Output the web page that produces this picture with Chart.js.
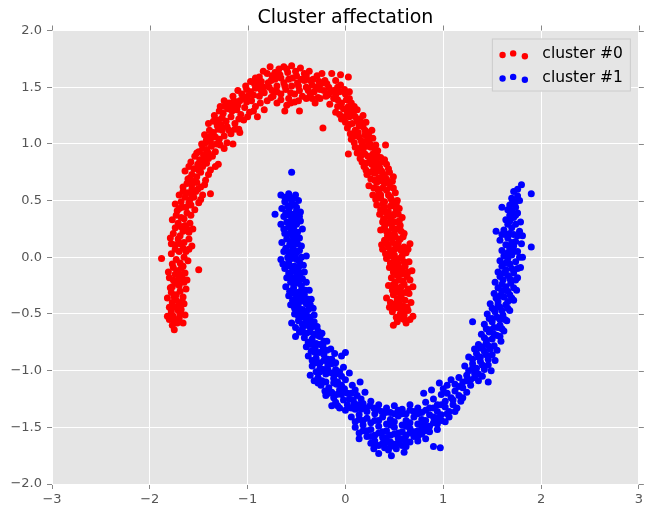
<!DOCTYPE html>
<html>
<head>
<meta charset="utf-8">
<script src="https://cdn.jsdelivr.net/npm/chart.js@4.4.1/dist/chart.umd.min.js"></script>
<style>
  html, body { margin: 0; padding: 0; background: #ffffff; }
  #chart { display: block; }
</style>
</head>
<body>
<canvas id="chart" width="646" height="512"></canvas>
<script>
// values
const titleText = 'Cluster affectation';
const seriesNames = ['cluster #0', 'cluster #1'];
const seriesColors = ['#ff0000', '#0000ff'];
const xTicks = [-3, -2, -1, 0, 1, 2, 3];
const yTicks = [-2.0, -1.5, -1.0, -0.5, 0.0, 0.5, 1.0, 1.5, 2.0];

// cluster #0 (red, upper moon) [x, y]
const cluster0 = [
  [-1.75,-0.64],[-1.80,-0.55],[-1.72,-0.58],[-1.66,-0.58],[-1.78,-0.48],[-1.69,-0.50],[-1.64,-0.51],[-1.74,-0.44],[-1.82,-0.52],[-1.70,-0.42],[-1.77,-0.40],
  [-1.77,-0.60],[-1.70,-0.54],[-1.76,-0.52],[-1.68,-0.46],[-1.80,-0.44],[-1.73,-0.38],[-1.65,-0.41],
  [-1.82,-0.36],[-1.73,-0.33],[-1.66,-0.35],[-1.79,-0.27],[-1.70,-0.25],[-1.63,-0.28],[-1.76,-0.20],[-1.67,-0.18],[-1.81,-0.13],[-1.72,-0.12],[-1.64,-0.14],[-1.50,-0.11],[-1.77,-0.06],
  [-1.78,-0.31],[-1.69,-0.30],[-1.74,-0.23],[-1.65,-0.22],[-1.80,-0.18],[-1.70,-0.15],[-1.76,-0.09],[-1.66,-0.08],[-1.62,-0.20],
  [-1.69,-0.05],[-1.61,-0.03],[-1.88,-0.01],[-1.78,0.03],[-1.70,0.05],[-1.60,0.07],[-1.74,0.11],[-1.65,0.13],[-1.57,0.10],[-1.79,0.17],[-1.69,0.19],[-1.60,0.22],[-1.74,0.26],[-1.64,0.28],[-1.56,0.25],
  [-1.73,-0.02],[-1.65,0.00],[-1.74,0.07],[-1.63,0.05],[-1.69,0.12],[-1.60,0.16],[-1.76,0.21],[-1.66,0.23],[-1.71,0.30],[-1.59,0.30],[-1.78,0.12],
  [-1.77,0.33],[-1.68,0.35],[-1.58,0.37],[-1.72,0.41],[-1.63,0.44],[-1.54,0.42],[-1.68,0.49],[-1.59,0.51],[-1.50,0.48],[-1.70,0.55],[-1.62,0.57],[-1.53,0.58],[-1.46,0.55],[-1.38,0.56],
  [-1.73,0.37],[-1.62,0.39],[-1.67,0.44],[-1.58,0.46],[-1.74,0.47],[-1.64,0.53],[-1.55,0.53],[-1.48,0.51],[-1.57,0.60],[-1.66,0.58],
  [-1.66,0.62],[-1.57,0.64],[-1.48,0.62],[-1.61,0.69],[-1.52,0.71],[-1.43,0.68],[-1.64,0.76],[-1.55,0.78],[-1.46,0.80],[-1.38,0.77],[-1.33,0.80],[-1.58,0.84],[-1.49,0.86],[-1.40,0.87],[-1.30,0.82],
  [-1.62,0.65],[-1.52,0.66],[-1.44,0.64],[-1.57,0.73],[-1.48,0.75],[-1.40,0.73],[-1.60,0.80],[-1.51,0.82],[-1.42,0.83],[-1.54,0.89],[-1.45,0.90],[-1.36,0.89],
  [-1.50,0.93],[-1.42,0.95],[-1.33,0.93],[-1.24,0.96],[-1.47,1.00],[-1.38,1.02],[-1.29,1.04],[-1.21,1.01],[-1.15,1.00],[-1.44,1.08],[-1.35,1.10],[-1.26,1.12],[-1.17,1.09],[-1.09,1.13],[-1.08,1.10],[-1.31,1.16],
  [-1.46,0.96],[-1.37,0.98],[-1.28,0.99],[-1.42,1.04],[-1.33,1.06],[-1.24,1.07],[-1.39,1.12],[-1.30,1.13],[-1.21,1.15],[-1.13,1.13],[-1.35,1.20],
  [-1.40,1.18],[-1.22,1.20],[-1.13,1.18],[-1.04,1.21],[-1.34,1.25],[-1.25,1.27],[-1.16,1.29],[-1.07,1.26],[-0.98,1.28],[-0.90,1.24],[-1.28,1.33],[-1.19,1.36],[-1.10,1.34],[-1.01,1.37],[-0.92,1.33],[-0.83,1.30],
  [-1.30,1.21],[-1.26,1.23],[-1.17,1.24],[-1.09,1.22],[-1.00,1.24],[-1.29,1.29],[-1.20,1.31],[-1.11,1.30],[-1.03,1.32],[-0.94,1.29],[-1.24,1.38],[-1.14,1.38],[-1.05,1.40],[-0.96,1.38],[-0.87,1.36],
  [-1.15,1.42],[-1.06,1.44],[-0.97,1.46],[-0.88,1.42],[-0.80,1.38],[-1.02,1.51],[-0.93,1.53],[-0.84,1.50],[-0.75,1.47],[-0.66,1.44],[-0.58,1.40],[-0.88,1.59],[-0.80,1.62],[-0.72,1.57],[-0.63,1.54],[-0.55,1.51],[-0.47,1.47],
  [-1.10,1.47],[-1.01,1.48],[-0.92,1.49],[-0.83,1.45],[-0.74,1.42],[-0.66,1.39],[-0.97,1.55],[-0.89,1.55],[-0.79,1.54],[-0.70,1.51],[-0.61,1.48],[-0.52,1.44],[-0.44,1.42],
  [-0.77,1.68],[-0.68,1.66],[-0.59,1.63],[-0.50,1.60],[-0.42,1.56],[-0.34,1.52],[-0.26,1.48],[-0.55,1.69],[-0.46,1.67],[-0.37,1.64],[-0.29,1.60],[-0.21,1.56],[-0.14,1.62],[0.03,1.59],
  [-0.84,1.64],[-0.75,1.60],[-0.67,1.61],[-0.58,1.57],[-0.49,1.54],[-0.40,1.50],[-0.32,1.46],[-0.72,1.63],[-0.63,1.68],[-0.51,1.64],[-0.42,1.62],[-0.33,1.57],[-0.25,1.53],[-0.17,1.50],
  [-0.60,1.34],[-0.52,1.37],[-0.36,1.43],[-0.28,1.41],[-0.92,1.58],[-0.24,1.62],[-0.10,1.56],[-0.05,1.61],
  [-0.62,1.29],[-0.47,1.29],[-0.70,1.36],[-0.40,1.40],[-0.31,1.36],[-0.23,1.14],
  [-0.20,1.42],[-0.12,1.47],[-0.05,1.52],[-0.16,1.35],[-0.08,1.39],[0.00,1.44],[0.04,1.46],[-0.10,1.28],[-0.02,1.31],[0.06,1.36],[0.12,1.30],[-0.04,1.22],[0.04,1.24],[0.12,1.20],[0.18,1.25],
  [-0.16,1.45],[-0.08,1.50],[-0.01,1.48],[-0.12,1.40],[-0.04,1.36],[0.04,1.40],[0.09,1.33],[-0.06,1.26],[0.02,1.28],[0.08,1.27],[0.15,1.22],[0.00,1.19],[0.07,1.18],[0.14,1.16],[0.21,1.19],
  [0.02,1.14],[0.10,1.12],[0.18,1.15],[0.24,1.10],[0.06,1.04],[0.14,1.06],[0.22,1.03],[0.28,1.05],[0.03,0.91],[0.10,0.97],[0.18,0.95],[0.26,0.97],[0.33,0.94],[0.41,0.99],
  [0.05,1.09],[0.13,1.10],[0.20,1.08],[0.27,1.12],[0.09,1.01],[0.17,1.00],[0.25,1.00],[0.31,0.99],
  [0.15,0.87],[0.23,0.89],[0.31,0.86],[0.19,0.80],[0.27,0.82],[0.35,0.79],[0.42,0.82],[0.22,0.73],[0.30,0.74],[0.38,0.72],[0.45,0.75],[0.24,0.63],[0.32,0.66],[0.40,0.65],[0.48,0.67],[0.34,0.58],
  [0.12,0.92],[0.20,0.91],[0.28,0.91],[0.36,0.88],[0.17,0.84],[0.25,0.85],[0.33,0.83],[0.40,0.86],[0.21,0.77],[0.29,0.78],[0.37,0.76],[0.44,0.78],[0.26,0.69],[0.34,0.70],[0.42,0.69],[0.49,0.71],[0.29,0.61],[0.38,0.61],[0.46,0.62],
  [0.28,0.55],[0.36,0.52],[0.44,0.55],[0.51,0.57],[0.32,0.46],[0.40,0.44],[0.48,0.47],[0.55,0.43],[0.35,0.38],[0.43,0.36],[0.51,0.39],[0.58,0.35],[0.47,0.30],[0.38,0.31],
  [0.31,0.51],[0.40,0.49],[0.47,0.51],[0.53,0.50],[0.36,0.42],[0.44,0.40],[0.52,0.43],[0.39,0.34],[0.47,0.33],[0.55,0.32],[0.54,0.38],[0.33,0.53],
  [0.36,0.24],[0.44,0.22],[0.52,0.25],[0.60,0.21],[0.40,0.15],[0.48,0.13],[0.56,0.16],[0.66,0.12],[0.38,0.07],[0.46,0.05],[0.54,0.08],[0.62,0.04],[0.42,-0.01],[0.50,-0.03],[0.58,0.01],
  [0.40,0.27],[0.48,0.26],[0.56,0.28],[0.43,0.19],[0.51,0.18],[0.59,0.18],[0.37,0.11],[0.44,0.09],[0.52,0.11],[0.60,0.09],[0.41,0.03],[0.50,0.02],[0.57,0.06],[0.64,0.07],[0.46,-0.05],[0.54,-0.06],
  [0.65,-0.04],[0.45,-0.09],[0.53,-0.11],[0.61,-0.08],[0.68,-0.12],[0.47,-0.18],[0.55,-0.20],[0.63,-0.17],[0.44,-0.25],[0.52,-0.27],[0.60,-0.24],[0.69,-0.26],[0.42,-0.36],
  [0.49,-0.13],[0.57,-0.15],[0.64,-0.13],[0.51,-0.22],[0.59,-0.21],[0.66,-0.20],[0.48,-0.29],[0.56,-0.30],[0.64,-0.28],[0.60,-0.04],
  [0.49,-0.33],[0.57,-0.35],[0.65,-0.32],[0.51,-0.41],[0.59,-0.43],[0.67,-0.40],[0.48,-0.48],[0.56,-0.50],[0.64,-0.47],[0.69,-0.52],[0.49,-0.60],[0.53,-0.57],[0.62,-0.58],[0.58,-0.54],
  [0.53,-0.37],[0.61,-0.38],[0.46,-0.40],[0.55,-0.45],[0.63,-0.44],[0.52,-0.53],[0.60,-0.51],[0.66,-0.55],[0.45,-0.44],
  [-1.75,-0.57],[-1.71,-0.47],[-1.75,-0.35],[-1.67,-0.39],[-1.71,-0.20],[-1.77,-0.26],[-1.68,-0.10],[-1.74,-0.15],[-1.66,0.08],[-1.71,0.16],[-1.62,0.25],[-1.68,0.27],[-1.65,0.34],[-1.70,0.43],[-1.60,0.48],
  [-1.57,0.55],[-1.51,0.60],[-1.59,0.70],[-1.56,0.67],[-1.50,0.77],[-1.45,0.85],[-1.52,0.92],[-1.40,0.92],[-1.43,1.01],[-1.32,1.00],[-1.38,1.07],[-1.27,1.17],[-1.19,1.12],[-1.23,1.33],[-1.15,1.34],
  [-1.08,1.38],[-1.00,1.42],[-0.94,1.43],[-0.86,1.47],[-0.78,1.50],[-0.70,1.46],[-0.62,1.51],[-0.56,1.45],[-0.48,1.51],[-0.38,1.47],[-0.30,1.50],[-0.22,1.47],[-0.86,1.55],[-0.76,1.56],[-0.66,1.58],
  [-0.54,1.58],[-0.45,1.57],[-0.36,1.56],[-0.27,1.55],[-0.19,1.53],[-0.60,1.66],[-0.70,1.62],[-0.40,1.60],[-0.18,1.43],[-0.26,1.40],[-0.34,1.40],[-0.48,1.38],[-0.56,1.36],[-0.76,1.41],[-0.88,1.50],
  [-0.10,1.43],[-0.06,1.46],[0.01,1.39],[-0.08,1.33],[0.07,1.30],[0.03,1.33],[-0.01,1.24],[0.10,1.24],[0.16,1.19],[0.04,1.17],[0.09,1.07],[0.20,1.12],[0.16,1.03],[0.24,1.06],[0.13,0.96],[0.22,0.98],
  [0.30,0.96],[0.16,0.90],[0.26,0.88],[0.32,0.90],[0.21,0.83],[0.31,0.80],[0.38,0.84],[0.26,0.75],[0.34,0.76],[0.40,0.73],[0.30,0.68],[0.38,0.67],[0.44,0.66],[0.33,0.60],[0.42,0.59],[0.49,0.61],
  [0.36,0.55],[0.46,0.53],[0.38,0.47],[0.46,0.45],[0.52,0.47],[0.41,0.40],[0.49,0.37],[0.43,0.30],[0.52,0.31],[0.42,0.23],[0.50,0.21],[0.57,0.23],[0.46,0.17],[0.54,0.13],[0.42,0.12],[0.50,0.07],
  [0.58,0.08],[0.47,0.01],[0.55,-0.01],[0.50,-0.08],[0.58,-0.10],[0.53,-0.16],[0.61,-0.14],[0.49,-0.24],[0.57,-0.26],[0.53,-0.31],[0.61,-0.31],[0.55,-0.40],[0.50,-0.45],[0.58,-0.47],[0.54,-0.53],[0.60,-0.55]
];

// cluster #1 (blue, lower moon) [x, y]
const cluster1 = [
  [-0.55,0.75],[-0.72,0.38],
  [-0.66,0.55],[-0.58,0.56],[-0.51,0.55],[-0.62,0.49],[-0.55,0.48],[-0.48,0.50],[-0.65,0.43],[-0.58,0.41],[-0.50,0.44],
  [-0.62,0.53],[-0.54,0.52],[-0.59,0.45],[-0.52,0.46],[-0.61,0.39],[-0.53,0.38],[-0.46,0.40],
  [-0.63,0.36],[-0.55,0.34],[-0.47,0.36],[-0.66,0.29],[-0.58,0.27],[-0.50,0.29],[-0.44,0.25],[-0.62,0.21],[-0.54,0.19],[-0.47,0.17],[-0.65,0.13],[-0.57,0.11],[-0.49,0.12],
  [-0.60,0.31],[-0.53,0.31],[-0.46,0.32],[-0.63,0.25],[-0.55,0.23],[-0.49,0.22],[-0.60,0.16],[-0.52,0.15],[-0.45,0.10],[-0.61,0.08],[-0.53,0.07],
  [-0.63,0.05],[-0.55,0.03],[-0.47,0.06],[-0.40,0.01],[-0.66,-0.02],[-0.58,-0.04],[-0.50,-0.02],[-0.43,-0.07],[-0.62,-0.10],[-0.54,-0.12],[-0.46,-0.14],[-0.60,-0.18],[-0.52,-0.20],[-0.44,-0.19],
  [-0.59,0.00],[-0.52,0.01],[-0.45,0.00],[-0.64,-0.06],[-0.56,-0.08],[-0.48,-0.09],[-0.58,-0.14],[-0.50,-0.16],[-0.42,-0.13],[-0.56,-0.22],[-0.48,-0.23],[-0.40,-0.22],
  [-0.61,-0.26],[-0.53,-0.27],[-0.45,-0.25],[-0.37,-0.29],[-0.58,-0.34],[-0.50,-0.36],[-0.42,-0.33],[-0.35,-0.37],[-0.56,-0.42],[-0.48,-0.44],[-0.40,-0.41],[-0.33,-0.45],[-0.52,-0.50],[-0.44,-0.49],
  [-0.57,-0.30],[-0.49,-0.31],[-0.41,-0.29],[-0.54,-0.38],[-0.46,-0.39],[-0.38,-0.37],[-0.52,-0.45],[-0.44,-0.46],[-0.36,-0.42],[-0.48,-0.52],[-0.40,-0.50],[-0.32,-0.51],
  [-0.55,-0.58],[-0.48,-0.56],[-0.40,-0.55],[-0.32,-0.57],[-0.51,-0.70],[-0.44,-0.63],[-0.36,-0.62],[-0.28,-0.65],[-0.42,-0.71],[-0.34,-0.72],[-0.26,-0.70],[-0.19,-0.74],[-0.40,-0.79],[-0.31,-0.80],[-0.23,-0.78],[-0.15,-0.81],[0.00,-0.84],[-0.04,-0.87],
  [-0.51,-0.62],[-0.44,-0.59],[-0.36,-0.58],[-0.29,-0.61],[-0.47,-0.66],[-0.40,-0.67],[-0.32,-0.68],[-0.24,-0.67],[-0.38,-0.75],[-0.30,-0.76],[-0.22,-0.74],
  [-0.35,-0.83],[-0.27,-0.84],[-0.19,-0.82],[-0.11,-0.85],[-0.34,-0.91],[-0.26,-0.93],[-0.18,-0.90],[-0.10,-0.93],
  [-0.38,-0.87],[-0.30,-0.89],[-0.22,-0.86],[-0.14,-0.90],[-0.34,-0.96],[-0.26,-0.98],[-0.18,-0.95],[-0.10,-0.99],[-0.02,-0.97],[-0.36,-1.04],[-0.28,-1.06],[-0.20,-1.03],[-0.12,-1.07],[-0.04,-1.05],[0.04,-1.02],
  [-0.30,-1.01],[-0.22,-0.99],[-0.14,-1.02],[-0.06,-1.01],[0.00,-1.08],[-0.32,-1.09],[-0.24,-1.09],[-0.08,-1.10],
  [-0.25,-1.13],[-0.17,-1.15],[-0.09,-1.12],[-0.01,-1.16],[0.07,-1.13],[0.15,-1.10],[-0.20,-1.22],[-0.12,-1.24],[-0.04,-1.21],[0.04,-1.25],[0.12,-1.22],[0.20,-1.19],[-0.14,-1.31],[-0.06,-1.33],[0.02,-1.30],[0.10,-1.34],
  [0.10,-1.17],[-0.21,-1.18],[-0.14,-1.19],[-0.06,-1.17],[0.02,-1.20],[0.08,-1.26],[0.16,-1.25],[-0.10,-1.28],[-0.02,-1.26],[0.06,-1.33],[0.13,-1.30],[0.21,-1.33],
  [0.18,-1.29],[0.26,-1.27],[0.34,-1.30],[0.42,-1.33],[0.50,-1.31],[0.58,-1.34],[0.66,-1.30],[0.74,-1.33],[0.82,-1.28],[0.90,-1.25],[0.98,-1.21],[0.80,-1.20],[0.88,-1.17],
  [0.22,-1.36],[0.29,-1.33],[0.37,-1.36],[0.46,-1.37],[0.54,-1.35],[0.62,-1.38],[0.70,-1.36],[0.78,-1.37],[0.86,-1.33],[0.94,-1.30],[1.02,-1.27],
  [0.06,-1.41],[0.14,-1.39],[0.22,-1.42],[0.30,-1.38],[0.38,-1.41],[0.46,-1.43],[0.54,-1.40],[0.62,-1.44],[0.70,-1.41],[0.78,-1.43],[0.86,-1.39],[0.94,-1.36],[1.02,-1.32],
  [0.10,-1.45],[0.18,-1.44],[0.26,-1.46],[0.34,-1.44],[0.42,-1.47],[0.50,-1.45],[0.58,-1.48],[0.66,-1.46],[0.74,-1.47],[0.82,-1.44],[0.90,-1.41],[0.98,-1.39],
  [0.10,-1.50],[0.18,-1.48],[0.26,-1.52],[0.34,-1.49],[0.42,-1.53],[0.50,-1.50],[0.58,-1.54],[0.66,-1.51],[0.74,-1.53],[0.82,-1.49],[0.90,-1.46],[0.98,-1.44],[1.06,-1.41],
  [0.14,-1.55],[0.22,-1.53],[0.30,-1.57],[0.38,-1.54],[0.46,-1.57],[0.54,-1.55],[0.62,-1.57],[0.70,-1.54],[0.78,-1.51],[0.86,-1.49],[0.94,-1.47],[1.02,-1.45],
  [0.14,-1.60],[0.22,-1.58],[0.30,-1.62],[0.38,-1.59],[0.46,-1.63],[0.54,-1.60],[0.62,-1.62],[0.70,-1.58],[0.78,-1.56],[0.86,-1.54],[0.94,-1.52],
  [0.26,-1.64],[0.34,-1.66],[0.42,-1.63],[0.50,-1.65],[0.58,-1.66],[0.66,-1.63],[0.74,-1.62],[0.82,-1.60],[0.44,-1.70],[0.56,-1.61],
  [0.29,-1.69],[0.40,-1.68],[0.47,-1.75],[0.60,-1.72],[0.52,-1.69],[0.90,-1.67],[0.97,-1.68],[0.34,-1.73],
  [1.10,-1.30],[1.18,-1.27],[1.04,-1.20],[1.12,-1.18],[1.20,-1.15],[1.28,-1.13],[0.96,-1.11],[1.08,-1.08],[1.16,-1.06],[1.24,-1.04],[1.32,-1.02],[1.40,-1.05],[1.46,-1.10],
  [1.06,-1.36],[1.14,-1.33],[1.08,-1.24],[1.16,-1.22],[1.24,-1.19],[1.00,-1.16],[1.12,-1.12],[1.20,-1.10],[1.28,-1.08],[1.36,-1.09],
  [1.22,-0.96],[1.30,-0.94],[1.38,-0.92],[1.46,-0.95],[1.53,-0.91],[1.26,-0.88],[1.34,-0.85],[1.42,-0.83],[1.50,-0.86],
  [1.26,-1.00],[1.34,-0.98],[1.42,-0.99],[1.49,-1.00],[1.30,-0.90],[1.38,-0.88],[1.46,-0.90],[1.32,-0.81],[1.40,-0.79],[1.48,-0.81],[1.55,-0.82],
  [1.36,-0.77],[1.44,-0.75],[1.52,-0.78],[1.59,-0.74],[1.39,-0.68],[1.47,-0.66],[1.55,-0.69],[1.62,-0.65],[1.30,-0.57],
  [1.42,-0.71],[1.50,-0.72],[1.58,-0.70],[1.44,-0.63],[1.52,-0.62],[1.60,-0.63],
  [1.42,-0.59],[1.50,-0.57],[1.58,-0.60],[1.65,-0.56],[1.45,-0.50],[1.53,-0.48],[1.61,-0.51],[1.68,-0.47],
  [1.47,-0.54],[1.55,-0.53],[1.63,-0.55],[1.50,-0.45],[1.58,-0.44],[1.66,-0.45],
  [1.48,-0.41],[1.56,-0.39],[1.64,-0.42],[1.72,-0.38],[1.52,-0.32],[1.60,-0.30],[1.68,-0.33],[1.75,-0.29],
  [1.54,-0.36],[1.62,-0.35],[1.70,-0.36],[1.56,-0.27],[1.64,-0.26],[1.72,-0.27],
  [1.53,-0.22],[1.61,-0.20],[1.69,-0.23],[1.76,-0.18],[1.56,-0.13],[1.64,-0.11],[1.72,-0.14],[1.79,-0.09],
  [1.58,-0.17],[1.66,-0.16],[1.74,-0.20],[1.60,-0.08],[1.68,-0.06],[1.76,-0.10],
  [1.58,-0.03],[1.66,-0.01],[1.74,-0.04],[1.81,0.00],[1.60,0.06],[1.68,0.08],[1.76,0.05],[1.90,0.09],
  [1.62,0.01],[1.70,0.02],[1.78,0.00],[1.64,0.11],[1.72,0.10],[1.80,0.12],
  [1.58,0.15],[1.66,0.17],[1.74,0.14],[1.81,0.19],[1.62,0.24],[1.70,0.26],[1.78,0.23],[1.54,0.23],
  [1.60,0.20],[1.68,0.21],[1.76,0.19],[1.66,0.29],[1.74,0.29],[1.68,0.37],[1.76,0.39],
  [1.64,0.33],[1.72,0.35],[1.79,0.31],[1.66,0.42],[1.74,0.44],[1.60,0.44],[1.78,0.50],[1.70,0.52],[1.72,0.58],[1.80,0.64],[1.90,0.56],
  [1.70,0.47],[1.76,0.54],[1.68,0.46],
  [-0.59,0.52],[-0.57,0.44],[-0.50,0.41],[-0.57,0.37],[-0.51,0.34],[-0.57,0.30],[-0.53,0.26],[-0.58,0.21],[-0.50,0.19],[-0.56,0.14],[-0.54,0.10],[-0.58,0.05],[-0.50,0.04],[-0.55,-0.01],[-0.47,-0.04],
  [-0.60,-0.07],[-0.52,-0.08],[-0.50,-0.12],[-0.56,-0.17],[-0.48,-0.18],[-0.53,-0.23],[-0.45,-0.29],[-0.53,-0.32],[-0.46,-0.34],[-0.50,-0.40],[-0.42,-0.38],[-0.47,-0.48],[-0.38,-0.46],[-0.44,-0.53],
  [-0.36,-0.53],[-0.40,-0.60],[-0.33,-0.61],[-0.45,-0.66],[-0.36,-0.66],[-0.28,-0.69],[-0.35,-0.77],[-0.26,-0.77],[-0.31,-0.84],[-0.23,-0.82],[-0.30,-0.93],[-0.22,-0.91],[-0.14,-0.94],[-0.26,-1.01],
  [-0.18,-0.99],[-0.10,-1.03],[-0.28,-1.11],[-0.20,-1.10],[-0.12,-1.11],[-0.04,-1.13],[-0.17,-1.20],[-0.09,-1.21],[0.06,-1.20],[-0.08,-1.31],[0.00,-1.35],[0.09,-1.29],
  [0.16,-1.34],[0.25,-1.31],[0.33,-1.34],[0.41,-1.37],[0.50,-1.38],[0.58,-1.38],[0.66,-1.35],[0.74,-1.38],[0.82,-1.35],[0.90,-1.33],[0.98,-1.30],[0.14,-1.43],[0.30,-1.44],[0.46,-1.48],[0.62,-1.49],
  [0.78,-1.47],[0.94,-1.42],[0.18,-1.53],[0.34,-1.55],[0.50,-1.56],[0.66,-1.55],[0.82,-1.53],[0.26,-1.58],[0.42,-1.59],[0.58,-1.60],[0.74,-1.58],[0.30,-1.66],[0.46,-1.67],[0.62,-1.67],[0.38,-1.64],[0.54,-1.64],
  [1.04,-1.38],[1.12,-1.36],[1.10,-1.26],[1.20,-1.24],[1.04,-1.13],[1.16,-1.14],[1.32,-1.06],[1.24,-1.09],[1.36,-1.03],[1.30,-0.98],[1.40,-0.95],[1.36,-0.88],[1.44,-0.86],[1.38,-0.80],[1.46,-0.78],
  [1.44,-0.73],[1.52,-0.68],[1.48,-0.64],[1.56,-0.62],[1.50,-0.54],[1.58,-0.55],[1.52,-0.46],[1.60,-0.47],[1.56,-0.42],[1.66,-0.39],[1.58,-0.34],[1.66,-0.30],[1.60,-0.24],[1.68,-0.19],[1.62,-0.14],
  [1.70,-0.10],[1.64,-0.05],[1.72,0.05],[1.66,0.04],[1.70,0.13],[1.64,0.20],[1.72,0.20],[1.68,0.32],[1.74,0.37],[1.70,0.41],[1.74,0.49],[1.76,0.60]
];

const FONT = "'DejaVu Sans', 'Liberation Sans', sans-serif";
const fmtY = v => (v < 0 ? '\u2212' : '') + Math.abs(v).toFixed(1);
const fmtX = v => (v < 0 ? '\u2212' : '') + Math.abs(v);

// grey plot background
const plotBg = {
  id: 'plotBg',
  beforeDraw(chart) {
    const { ctx, chartArea: a } = chart;
    ctx.save();
    ctx.fillStyle = '#e5e5e5';
    ctx.fillRect(a.left, a.top, a.right - a.left, a.bottom - a.top);
    ctx.restore();
  }
};

// title centred over the plot area, not the canvas
const plotTitle = {
  id: 'plotTitle',
  afterDraw(chart) {
    const { ctx, chartArea: a } = chart;
    ctx.save();
    ctx.fillStyle = '#000';
    ctx.font = '19px ' + FONT;
    ctx.textAlign = 'center';
    ctx.textBaseline = 'alphabetic';
    ctx.fillText(titleText, (a.left + a.right) / 2, 23);
    ctx.restore();
  }
};

// tick marks on top and right edges too, like the original
const mirrorTicks = {
  id: 'mirrorTicks',
  afterDraw(chart) {
    const { ctx, chartArea: a, scales } = chart;
    ctx.save();
    ctx.strokeStyle = '#888';
    ctx.lineWidth = 1;
    ctx.beginPath();
    xTicks.forEach(v => {
      const px = Math.round(scales.x.getPixelForValue(v)) + 0.5;
      ctx.moveTo(px, a.top);
      ctx.lineTo(px, a.top - 5);
    });
    yTicks.forEach(v => {
      const py = Math.round(scales.y.getPixelForValue(v)) + 0.5;
      ctx.moveTo(a.right, py);
      ctx.lineTo(a.right + 5, py);
    });
    ctx.stroke();
    ctx.restore();
  }
};

// matplotlib-like legend with three scatter dots per entry
const dotLegend = {
  id: 'dotLegend',
  afterDraw(chart) {
    const { ctx, chartArea: a } = chart;
    const boxW = 139, boxH = 53;
    const bx = a.right - 8 - boxW, by = a.top + 8;
    ctx.save();
    ctx.fillStyle = '#e5e5e5';
    ctx.strokeStyle = '#cccccc';
    ctx.lineWidth = 1;
    ctx.fillRect(bx, by, boxW, boxH);
    ctx.strokeRect(bx + 0.5, by + 0.5, boxW - 1, boxH - 1);
    const dots = [[10.7, 0], [21.3, -1.6], [33, 1.3]];
    chart.data.datasets.forEach((ds, i) => {
      const cy = by + 15.5 + i * 23.5;
      ctx.fillStyle = ds.backgroundColor;
      dots.forEach(d => {
        ctx.beginPath();
        ctx.arc(bx + d[0], cy + 1 + d[1], 3.2, 0, Math.PI * 2);
        ctx.fill();
      });
      ctx.fillStyle = '#000';
      ctx.font = '15.5px ' + FONT;
      ctx.textBaseline = 'middle';
      ctx.textAlign = 'left';
      ctx.fillText(ds.label, bx + 50.5, cy);
    });
    ctx.restore();
  }
};

const datasets = [cluster0, cluster1].map((pts, i) => ({
  label: seriesNames[i],
  data: pts.map(p => ({ x: p[0], y: p[1] })),
  backgroundColor: seriesColors[i],
  borderWidth: 0,
  pointRadius: 3.5,
  pointHoverRadius: 3.5
}));

new Chart(document.getElementById('chart'), {
  type: 'scatter',
  data: { datasets: datasets },
  options: {
    responsive: false,
    animation: false,
    devicePixelRatio: 1,
    layout: { padding: { right: 6.5, left: 0, top: 30.5, bottom: 0 } },
    plugins: {
      legend: { display: false },
      tooltip: { enabled: false },
      title: { display: false }
    },
    scales: {
      x: {
        type: 'linear',
        min: xTicks[0],
        max: xTicks[xTicks.length - 1],
        afterBuildTicks: s => { s.ticks = xTicks.map(v => ({ value: v })); },
        afterFit: s => { s.height = 28; },
        border: { display: false },
        grid: { color: '#ffffff', lineWidth: 1, tickColor: '#888', tickLength: 5 },
        ticks: {
          color: '#555',
          font: { family: FONT, size: 13 },
          padding: 3,
          maxRotation: 0,
          callback: v => fmtX(v)
        }
      },
      y: {
        type: 'linear',
        min: yTicks[0],
        max: yTicks[yTicks.length - 1],
        afterBuildTicks: s => { s.ticks = yTicks.map(v => ({ value: v })); },
        afterFit: s => { s.width = 52; },
        border: { display: false },
        grid: { color: '#ffffff', lineWidth: 1, tickColor: '#888', tickLength: 5 },
        ticks: {
          color: '#555',
          font: { family: FONT, size: 13 },
          padding: 5,
          callback: v => fmtY(v)
        }
      }
    }
  },
  plugins: [plotBg, plotTitle, mirrorTicks, dotLegend]
});
</script>
</body>
</html>
